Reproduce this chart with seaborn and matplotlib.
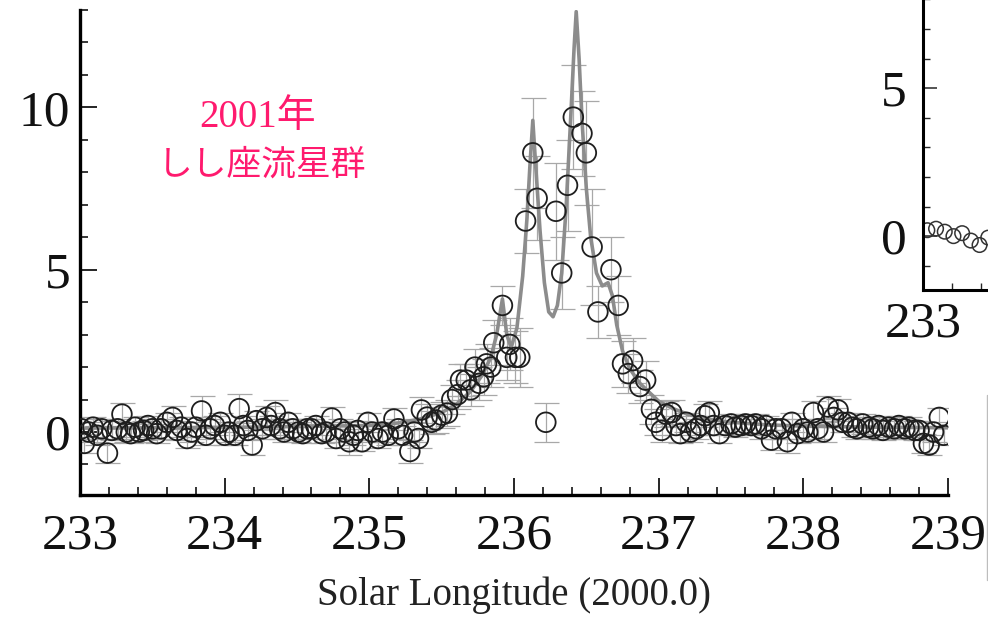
import numpy as np
import pandas as pd
import matplotlib
matplotlib.use("Agg")
import matplotlib.pyplot as plt
from matplotlib.ticker import MultipleLocator
from matplotlib.lines import Line2D
import seaborn as sns

# ---------------- data ----------------
sol_lon = [233.01, 233.03, 233.06, 233.09, 233.12, 233.15, 233.19, 233.22, 233.26, 233.29,
           233.32, 233.35, 233.38, 233.41, 233.44, 233.47, 233.50, 233.53, 233.56, 233.60,
           233.64, 233.67, 233.70, 233.74, 233.77, 233.80, 233.84, 233.87, 233.90, 233.93,
           233.97, 234.00, 234.03, 234.07, 234.10, 234.13, 234.16, 234.19, 234.22, 234.26,
           234.29, 234.32, 234.35, 234.38, 234.41, 234.44, 234.47, 234.51, 234.54, 234.57,
           234.60, 234.63, 234.67, 234.70, 234.74, 234.77, 234.80, 234.83, 234.86, 234.89,
           234.92, 234.95, 234.99, 235.02, 235.06, 235.09, 235.13, 235.17, 235.20, 235.23,
           235.28, 235.31, 235.34, 235.36, 235.40, 235.43, 235.46, 235.50, 235.54, 235.57,
           235.61, 235.63, 235.67, 235.70, 235.73, 235.76, 235.79, 235.81, 235.84, 235.86,
           235.92, 235.95, 235.97, 236.01, 236.04, 236.08, 236.13, 236.16, 236.22, 236.29,
           236.33, 236.37, 236.41, 236.47, 236.50, 236.54, 236.58, 236.67, 236.72, 236.75,
           236.79, 236.82, 236.87, 236.91, 236.95, 236.98, 237.02, 237.05, 237.09, 237.12,
           237.15, 237.19, 237.22, 237.26, 237.29, 237.32, 237.35, 237.38, 237.42, 237.46,
           237.50, 237.53, 237.57, 237.60, 237.64, 237.67, 237.71, 237.74, 237.78, 237.81,
           237.85, 237.89, 237.92, 237.96, 238.00, 238.03, 238.07, 238.10, 238.14, 238.17,
           238.21, 238.24, 238.27, 238.31, 238.34, 238.37, 238.41, 238.45, 238.48, 238.52,
           238.55, 238.59, 238.63, 238.66, 238.70, 238.73, 238.77, 238.80, 238.83, 238.87,
           238.90, 238.94, 238.97]
rate = [0.10, -0.35, 0.00, 0.15, -0.10, 0.10, -0.65, 0.05, 0.10, 0.55,
        0.00, -0.05, 0.15, 0.00, 0.05, 0.20, 0.10, -0.05, 0.10, 0.30,
        0.45, 0.05, 0.15, -0.20, 0.00, 0.15, 0.65, -0.10, 0.10, 0.20,
        0.30, -0.10, 0.00, -0.10, 0.72, 0.20, 0.05, -0.40, 0.35, 0.10,
        0.45, 0.20, 0.60, 0.10, 0.00, 0.30, 0.10, 0.00, -0.05, 0.10,
        0.10, 0.20, -0.05, 0.00, 0.43, -0.20, 0.10, 0.00, -0.30, -0.10,
        0.05, -0.30, 0.30, 0.00, -0.20, 0.00, -0.10, 0.40, 0.10, -0.10,
        -0.60, 0.00, -0.20, 0.68, 0.46, 0.30, 0.37, 0.52, 0.58, 1.00,
        1.15, 1.60, 1.60, 1.30, 2.00, 1.50, 1.70, 2.10, 2.00, 2.75,
        3.90, 2.30, 2.70, 2.30, 2.30, 6.50, 8.60, 7.20, 0.30, 6.80,
        4.90, 7.60, 9.70, 9.20, 8.60, 5.70, 3.70, 5.00, 3.90, 2.10,
        1.80, 2.20, 1.40, 1.60, 0.70, 0.30, 0.05, 0.55, 0.60, 0.20,
        -0.05, 0.30, 0.00, 0.10, 0.20, 0.50, 0.60, 0.20, -0.05, 0.20,
        0.25, 0.15, 0.20, 0.25, 0.20, 0.25, 0.10, 0.20, -0.25, 0.10,
        0.10, -0.30, 0.30, -0.05, 0.10, 0.00, 0.60, 0.10, 0.00, 0.77,
        0.45, 0.68, 0.30, 0.30, 0.15, 0.10, 0.25, 0.15, 0.10, 0.20,
        0.05, 0.15, 0.10, 0.20, 0.10, 0.15, 0.05, 0.05, -0.35, -0.40,
        0.00, 0.45, -0.10]
rate_err = [0.30, 0.30, 0.30, 0.30, 0.30, 0.30, 0.30, 0.30, 0.30, 0.35,
            0.30, 0.30, 0.30, 0.30, 0.30, 0.30, 0.30, 0.30, 0.30, 0.30,
            0.35, 0.30, 0.30, 0.30, 0.30, 0.30, 0.45, 0.30, 0.30, 0.30,
            0.30, 0.30, 0.30, 0.30, 0.45, 0.30, 0.30, 0.30, 0.30, 0.30,
            0.35, 0.30, 0.40, 0.30, 0.30, 0.30, 0.30, 0.30, 0.30, 0.30,
            0.30, 0.30, 0.30, 0.30, 0.35, 0.30, 0.30, 0.30, 0.40, 0.30,
            0.30, 0.30, 0.30, 0.30, 0.30, 0.30, 0.30, 0.35, 0.30, 0.30,
            0.35, 0.30, 0.30, 0.40, 0.40, 0.35, 0.40, 0.40, 0.40, 0.45,
            0.45, 0.50, 0.50, 0.50, 0.55, 0.50, 0.55, 0.60, 0.60, 0.70,
            0.60, 0.70, 0.80, 0.80, 0.90, 1.00, 1.70, 1.30, 0.60, 1.50,
            1.10, 1.40, 1.60, 1.30, 1.60, 1.80, 0.80, 1.00, 0.90, 0.70,
            0.60, 0.70, 0.50, 0.60, 0.45, 0.40, 0.35, 0.40, 0.40, 0.30,
            0.30, 0.30, 0.30, 0.30, 0.30, 0.35, 0.35, 0.30, 0.30, 0.30,
            0.30, 0.30, 0.30, 0.30, 0.30, 0.30, 0.30, 0.30, 0.30, 0.30,
            0.30, 0.35, 0.30, 0.30, 0.30, 0.30, 0.35, 0.30, 0.30, 0.35,
            0.30, 0.35, 0.30, 0.30, 0.30, 0.30, 0.30, 0.30, 0.30, 0.30,
            0.30, 0.30, 0.30, 0.30, 0.30, 0.30, 0.30, 0.30, 0.30, 0.30,
            0.30, 0.30, 0.30]

# fitted model curve
fit_lon = [233.0, 234.0, 235.0, 235.2, 235.35, 235.5, 235.6, 235.7, 235.78, 235.84,
           235.88, 235.92, 235.95, 235.98, 236.02, 236.06, 236.09, 236.11, 236.13, 236.15,
           236.18, 236.21, 236.24, 236.27, 236.30, 236.33, 236.36, 236.39, 236.415, 236.43,
           236.45, 236.47, 236.50, 236.53, 236.57, 236.61, 236.65, 236.68, 236.71, 236.75,
           236.80, 236.87, 236.94, 237.0, 237.1, 237.2, 237.33, 237.5, 237.75, 238.0,
           238.5, 239.0]
fit_rate = [0.12, 0.14, 0.20, 0.28, 0.40, 0.60, 0.85, 1.25, 1.75, 2.30,
            3.00, 4.10, 3.00, 2.60, 3.20, 4.80, 6.60, 8.20, 9.60, 8.20,
            6.20, 4.60, 3.70, 3.55, 3.90, 4.90, 6.90, 9.50, 11.80, 12.95,
            11.50, 9.60, 7.50, 6.00, 4.90, 4.50, 4.60, 4.20, 3.30, 2.50,
            1.95, 1.50, 1.20, 0.95, 0.72, 0.55, 0.40, 0.30, 0.22, 0.18,
            0.15, 0.13]

# partly visible neighbouring panel (top right)
inset_lon = [233.03, 233.09, 233.15, 233.21, 233.27, 233.33, 233.39, 233.45]
inset_rate = [0.20, 0.25, 0.15, 0.00, 0.10, -0.15, -0.30, -0.05]

x_ticks = [233, 234, 235, 236, 237, 238, 239]
y_ticks = [0, 5, 10]
inset_x_ticks = [233]
inset_y_ticks = [0, 5]
x_label = "Solar Longitude (2000.0)"
title_lines = ["2001年", "しし座流星群"]

# ---------------- style ----------------
sns.set_theme(style="white")
plt.rcParams['font.family'] = ['Liberation Serif', 'Noto Sans CJK JP', 'DejaVu Sans']

W, H = 988, 617
fig = plt.figure(figsize=(W / 100, H / 100), dpi=100)
fig.patch.set_facecolor("white")

ax = fig.add_axes([80 / W, 1 - 495 / H, (948 - 80) / W, (495 - 10) / H])
ax.set_facecolor("white")

df = pd.DataFrame({"lon": sol_lon, "rate": rate, "err": rate_err})
fit = pd.DataFrame({"lon": fit_lon, "rate": fit_rate})

ax.errorbar(df["lon"], df["rate"], yerr=df["err"], fmt="none", ecolor="#a8a8a8",
            elinewidth=0.9, capsize=9, capthick=0.9, zorder=1)
sns.lineplot(data=fit, x="lon", y="rate", ax=ax, color="#8c8c8c", linewidth=2.6,
             sort=False, zorder=2)
sns.scatterplot(data=df, x="lon", y="rate", ax=ax, marker="o", s=200,
                facecolors="none", edgecolor="#1e1e1e", linewidth=1.3, zorder=3)

ax.set_xlim(233, 239)
ax.set_ylim(-1.94, 13.0)
ax.set_xticks(x_ticks)
ax.set_yticks(y_ticks)
ax.set_xticklabels([str(t) for t in x_ticks])
ax.set_yticklabels([str(t) for t in y_ticks])
ax.xaxis.set_minor_locator(MultipleLocator(0.2))
ax.yaxis.set_minor_locator(MultipleLocator(1))
ax.tick_params(which="major", direction="in", length=12, width=1.2, color="black",
               labelsize=37, labelcolor="#111111")
ax.tick_params(which="minor", direction="in", length=6, width=1.1, color="black")
ax.tick_params(axis="x", which="major", pad=13)
ax.tick_params(axis="y", which="major", pad=7)
ax.tick_params(bottom=True, left=True, top=False, right=False)
ax.tick_params(which="minor", bottom=True, left=True, top=False, right=False)
for s in ["top", "right"]:
    ax.spines[s].set_visible(False)
for s in ["left", "bottom"]:
    ax.spines[s].set_color("black")
    ax.spines[s].set_linewidth(2.4)
ax.set_xlabel(x_label, fontsize=28, color="#222222", labelpad=12)
ax.set_ylabel("")

fig.text(258 / W, 1 - 118 / H, title_lines[0], color="#ff1a6e", fontsize=28,
         ha="center", va="center",
         family=['Liberation Serif', 'Noto Sans CJK JP'])
fig.text(262 / W, 1 - 165 / H, title_lines[1], color="#ff1a6e", fontsize=25,
         ha="center", va="center", family=['Noto Sans CJK JP', 'DejaVu Sans'])

# ---------------- neighbouring panel, cut by the figure edge ----------------
ax2 = fig.add_axes([923 / W, 1 - 290 / H, 0.3, 370 / H], zorder=5)
ax2.set_facecolor("white")
sns.scatterplot(x=inset_lon, y=inset_rate, ax=ax2, marker="o", s=110,
                facecolors="none", edgecolor="#333333", linewidth=1.1)
ax2.set_xlim(233, 233 + 0.3 * W / 145)
ax2.set_ylim(-1.82, 10.68)
ax2.set_xticks(inset_x_ticks)
ax2.set_yticks(inset_y_ticks)
ax2.xaxis.set_minor_locator(MultipleLocator(0.2))
ax2.yaxis.set_minor_locator(MultipleLocator(1))
ax2.tick_params(which="major", direction="in", length=10, width=1.1,
                labelsize=37, labelcolor="#111111")
ax2.tick_params(which="minor", direction="in", length=5, width=1.0)
ax2.tick_params(axis="x", which="major", pad=8)
ax2.tick_params(axis="y", which="major", pad=12)
ax2.tick_params(which="both", bottom=True, left=True, top=False, right=False)
for s in ["top", "right"]:
    ax2.spines[s].set_visible(False)
for s in ["left", "bottom"]:
    ax2.spines[s].set_color("black")
    ax2.spines[s].set_linewidth(2.2)

fig.add_artist(Line2D([986.5 / W, 986.5 / W], [1 - 395 / H, 1 - 580 / H],
                      color="#bdbdbd", linewidth=1.0))

fig.savefig("out.png", dpi=100)
